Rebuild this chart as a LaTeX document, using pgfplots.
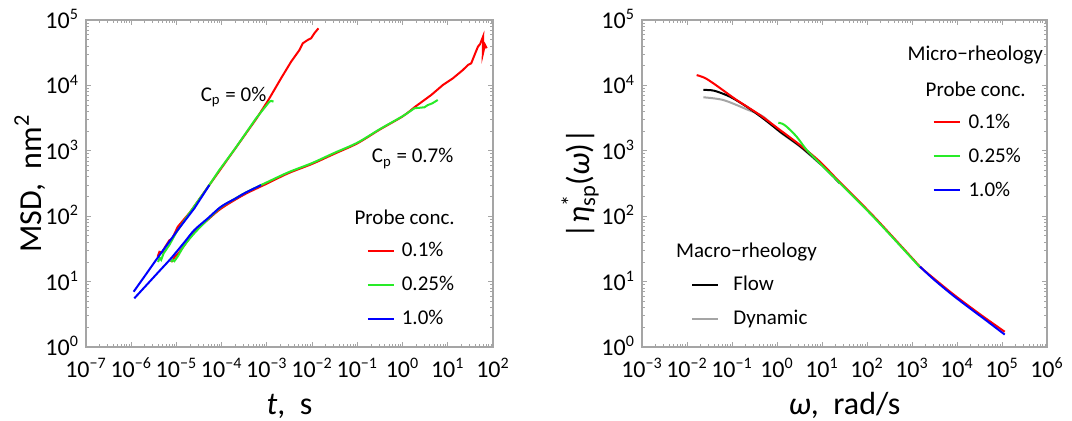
\documentclass[border=0pt]{standalone}
\usepackage{fontspec}
\setmainfont{Carlito}
\usepackage{pgfplots}
\pgfplotsset{compat=1.18}
\definecolor{mred}{RGB}{255,0,0}
\definecolor{mgreen}{RGB}{40,235,40}
\definecolor{mblue}{RGB}{0,0,255}
\definecolor{framegray}{RGB}{165,165,165}
\definecolor{dyngray}{RGB}{165,165,165}
\pgfplotsset{legend image code/.code={\draw[#1] (0pt,0pt) -- (13pt,0pt);}}
\begin{document}
\begin{tikzpicture}
\useasboundingbox (0,0) rectangle (536pt,210pt);
% ---------------- left panel ----------------
\begin{axis}[at={(43pt,36.5pt)}, anchor=south west,
  scale only axis, width=203.5pt, height=163.5pt,
  xmode=log, ymode=log, ymin=1, ymax=1e5, xmin=1e-7, xmax=1e2,
  axis line style={framegray, line width=0.6pt},
  tick style={framegray, line width=0.4pt},
  major tick length=2.5pt, minor tick length=1.6pt, tick align=inside,
  ticklabel style={font=\fontsize{12}{14}\selectfont, text=black},
  xticklabel style={yshift=-2pt},
  yticklabel style={yshift=0.5pt},
  ytick={1,10,100,1000,10000,100000},
  yticklabels={10\textsuperscript{0},10\textsuperscript{1},10\textsuperscript{2},10\textsuperscript{3},10\textsuperscript{4},10\textsuperscript{5}},
  minor ytick={2,3,4,5,6,7,8,9,20,30,40,50,60,70,80,90,200,300,400,500,600,700,800,900,2000,3000,4000,5000,6000,7000,8000,9000,20000,30000,40000,50000,60000,70000,80000,90000},
  xtick={1e-7,1e-6,1e-5,1e-4,1e-3,1e-2,1e-1,1,10,100},
  xticklabels={10\textsuperscript{−7},10\textsuperscript{−6},10\textsuperscript{−5},10\textsuperscript{−4},10\textsuperscript{−3},10\textsuperscript{−2},10\textsuperscript{−1},10\textsuperscript{0},10\textsuperscript{1},10\textsuperscript{2}},
  minor xtick={2e-7,3e-7,4e-7,5e-7,6e-7,7e-7,8e-7,9e-7,2e-6,3e-6,4e-6,5e-6,6e-6,7e-6,8e-6,9e-6,2e-5,3e-5,4e-5,5e-5,6e-5,7e-5,8e-5,9e-5,2e-4,3e-4,4e-4,5e-4,6e-4,7e-4,8e-4,9e-4,2e-3,3e-3,4e-3,5e-3,6e-3,7e-3,8e-3,9e-3,2e-2,3e-2,4e-2,5e-2,6e-2,7e-2,8e-2,9e-2,0.2,0.3,0.4,0.5,0.6,0.7,0.8,0.9,2,3,4,5,6,7,8,9,20,30,40,50,60,70,80,90},
  label style={font=\fontsize{16}{18}\selectfont},
  xlabel={\textit{t},\ \ s}, ylabel={MSD,\ \ nm\textsuperscript{2}},
  xlabel style={at={(axis description cs:0.5,-0.205)}, anchor=base},
  ylabel style={at={(axis description cs:-0.138,0.5)}, anchor=center},
  legend cell align=left,
  legend style={draw=none, fill=none, inner sep=0pt, outer sep=0pt, row sep=0pt,
    font=\fontsize{10.5}{12}\selectfont, nodes={inner sep=0pt, minimum height=17pt},
    at={(axis description cs:0.69,0.3456)}, anchor=north west, column sep=3.5pt},
]
% C_p = 0 %
\addplot[mred, line width=1pt] coordinates {(3.85e-6,24) (4.2e-6,28.6) (4.8e-6,28) (5.5e-6,33) (7e-6,43) (8e-6,45) (1.07e-5,69) (1.4e-5,86) (2e-5,115) (5e-5,281) (1e-4,552) (3e-4,1610) (6e-4,3170) (1.08e-3,5980) (2.06e-3,12850) (3.43e-3,23000) (5.25e-3,34800) (6.2e-3,44000) (8.0e-3,49500) (9.5e-3,52500) (1.12e-2,62600) (1.38e-2,74600)};
\addlegendentry{0.1\%}
\addplot[mgreen, line width=1pt] coordinates {(3.9e-6,20) (4.3e-6,23) (4.6e-6,21.5) (5.2e-6,27) (7e-6,36.5) (1e-5,57) (2e-5,115) (5e-5,281) (8.9e-5,509) (2e-4,1090) (5.77e-4,3140) (1.135e-3,5630) (1.25e-3,5800) (1.4e-3,5650)};
\addlegendentry{0.25\%}
\addplot[mblue, line width=1pt] coordinates {(1.13e-6,7.0) (2e-6,12.2) (3.54e-6,21.4) (1.07e-5,61.5) (2.49e-5,132) (5.35e-5,300)};
\addlegendentry{1.0\%}
% C_p = 0.7 %
\addplot[mred, line width=1pt, forget plot] coordinates {(7.4e-6,21) (8e-6,20.5) (9e-6,23.5) (1.2e-5,29)};
\addplot[mred, line width=1pt, forget plot, smooth] coordinates {(1.2e-5,29) (2.49e-5,57) (5e-5,89) (1e-4,133) (3.18e-4,215) (1e-3,315) (3e-3,455) (1e-2,630) (3e-2,890) (0.1,1300) (0.316,2120) (1,3350) (1.83,4630)};
\addplot[mred, line width=1pt, forget plot] coordinates {(1.83,4630) (4.3,7130) (7.8,10140) (13,12850) (21.6,17200) (27.9,20500) (33,21800) (39,29100) (46.4,39000) (52,43000) (60.7,56500) (59.5,30000) (66.5,41800) (72.4,37000)};
\addplot[mgreen, line width=1pt, forget plot] coordinates {(7.6e-6,20) (8.2e-6,21.5) (9e-6,20.5) (1.1e-5,25)};
\addplot[mgreen, line width=1pt, forget plot, smooth] coordinates {(1.1e-5,25) (1.5e-5,36) (2.49e-5,55) (5e-5,90) (9.7e-5,138) (2e-4,186) (3.18e-4,224) (7.45e-4,300) (1e-3,330) (3e-3,470) (1e-2,650) (3e-2,920) (0.1,1330) (0.316,2150) (1,3380) (1.83,4470)};
\addplot[mgreen, line width=1pt, forget plot] coordinates {(1.83,4470) (3.05,4630) (3.63,5010) (4.5,5300) (6.0,5980)};
\addplot[mblue, line width=1pt, forget plot, smooth] coordinates {(1.17e-6,5.55) (2e-6,8.3) (4e-6,14.0) (7.6e-6,22.7) (1.5e-5,40) (2.49e-5,61.5) (5e-5,93.5) (9.7e-5,140) (2e-4,186) (3.18e-4,224) (5e-4,262) (7.45e-4,300)};
\node[font=\fontsize{10.5}{12}\selectfont] at (axis cs:1.83e-4,6650) {C\textsubscript{p} = 0\%};
\node[font=\fontsize{10.5}{12}\selectfont] at (axis cs:1.67,762) {C\textsubscript{p} = 0.7\%};
\node[font=\fontsize{10.5}{12}\selectfont] at (axis description cs:0.783,0.397) {Probe conc.};
\end{axis}
% ---------------- right panel ----------------
\begin{axis}[at={(321pt,36.5pt)}, anchor=south west,
  scale only axis, width=202.5pt, height=163.5pt,
  xmode=log, ymode=log, ymin=1, ymax=1e5, xmin=1e-3, xmax=1e6,
  axis line style={framegray, line width=0.6pt},
  tick style={framegray, line width=0.4pt},
  major tick length=2.5pt, minor tick length=1.6pt, tick align=inside,
  ticklabel style={font=\fontsize{12}{14}\selectfont, text=black},
  xticklabel style={yshift=-2pt},
  yticklabel style={yshift=0.5pt},
  ytick={1,10,100,1000,10000,100000},
  yticklabels={10\textsuperscript{0},10\textsuperscript{1},10\textsuperscript{2},10\textsuperscript{3},10\textsuperscript{4},10\textsuperscript{5}},
  minor ytick={2,3,4,5,6,7,8,9,20,30,40,50,60,70,80,90,200,300,400,500,600,700,800,900,2000,3000,4000,5000,6000,7000,8000,9000,20000,30000,40000,50000,60000,70000,80000,90000},
  xtick={1e-3,1e-2,1e-1,1,10,100,1e3,1e4,1e5,1e6},
  xticklabels={10\textsuperscript{−3},10\textsuperscript{−2},10\textsuperscript{−1},10\textsuperscript{0},10\textsuperscript{1},10\textsuperscript{2},10\textsuperscript{3},10\textsuperscript{4},10\textsuperscript{5},10\textsuperscript{6}},
  minor xtick={2e-3,3e-3,4e-3,5e-3,6e-3,7e-3,8e-3,9e-3,2e-2,3e-2,4e-2,5e-2,6e-2,7e-2,8e-2,9e-2,0.2,0.3,0.4,0.5,0.6,0.7,0.8,0.9,2,3,4,5,6,7,8,9,20,30,40,50,60,70,80,90,200,300,400,500,600,700,800,900,2000,3000,4000,5000,6000,7000,8000,9000,2e4,3e4,4e4,5e4,6e4,7e4,8e4,9e4,2e5,3e5,4e5,5e5,6e5,7e5,8e5,9e5},
  label style={font=\fontsize{16}{18}\selectfont},
  xlabel={\textit{ω},\ \ rad/s},
  ylabel={|\textit{η}\rlap{\textsuperscript{*}}\textsubscript{sp}(\textit{ω})|},
  xlabel style={at={(axis description cs:0.5,-0.205)}, anchor=base},
  ylabel style={at={(axis description cs:-0.153,0.5)}, anchor=center},
  legend cell align=left,
  legend style={draw=none, fill=none, inner sep=0pt, outer sep=0pt, row sep=0pt,
    font=\fontsize{10.5}{12}\selectfont, nodes={inner sep=0pt, minimum height=17pt},
    at={(axis description cs:0.7175,0.739)}, anchor=north west, column sep=4pt},
]
\addplot[dyngray, line width=1pt, forget plot, smooth] coordinates {(0.0231,6580) (0.064,5980) (0.212,4310) (0.497,3320) (1.17,1930) (3.24,1160) (9,630)};
\addplot[black, line width=1pt, forget plot, smooth] coordinates {(0.0231,8510) (0.04,8300) (0.09,6720) (0.212,4720) (0.5,3100) (1.17,1960) (3.24,1180) (9,643) (25,318)};
\addplot[mred, line width=1pt, smooth] coordinates {(0.0164,14400) (0.025,13000) (0.0385,10770) (0.07,8020) (0.127,5980) (0.419,3520) (1.17,2080) (3.24,1227) (9.0,681) (25,330) (138,101) (1000,23) (1507,16.9) (3000,11.3) (8280,6.4) (23000,3.77) (45500,2.68) (1.15e5,1.71)};
\addlegendentry{0.1\%}
\addplot[mgreen, line width=1pt, smooth] coordinates {(1.07,2690) (1.3,2600) (1.64,2340) (2.74,1640) (4.57,1030) (9.0,640) (25,320) (138,98) (1000,22.5) (1507,16.5)};
\addlegendentry{0.25\%}
\addplot[mblue, line width=1pt, smooth] coordinates {(1507,16.9) (3000,10.9) (8280,6.1) (23000,3.58) (45500,2.52) (1.15e5,1.55)};
\addlegendentry{1.0\%}
\node[font=\fontsize{10.5}{12}\selectfont] at (axis description cs:0.823,0.893) {Micro−rheology};
\node[font=\fontsize{10.5}{12}\selectfont] at (axis description cs:0.824,0.787) {Probe conc.};
\node[font=\fontsize{10.5}{12}\selectfont] at (axis description cs:0.258,0.291) {Macro−rheology};
\end{axis}
% overlay axis carrying the macro-rheology legend
\begin{axis}[at={(321pt,36.5pt)}, anchor=south west, scale only axis, width=202.5pt, height=163.5pt,
  hide axis, xmin=0, xmax=1, ymin=0, ymax=1,
  legend cell align=left,
  legend style={draw=none, fill=none, inner sep=0pt, outer sep=0pt, row sep=0pt,
    font=\fontsize{10.5}{12}\selectfont, nodes={inner sep=0pt, minimum height=17pt},
    at={(axis description cs:0.122,0.243)}, anchor=north west, column sep=7pt},
]
\addlegendimage{black, line width=1pt}
\addlegendentry{Flow}
\addlegendimage{dyngray, line width=1pt}
\addlegendentry{Dynamic}
\end{axis}
\end{tikzpicture}
\end{document}
